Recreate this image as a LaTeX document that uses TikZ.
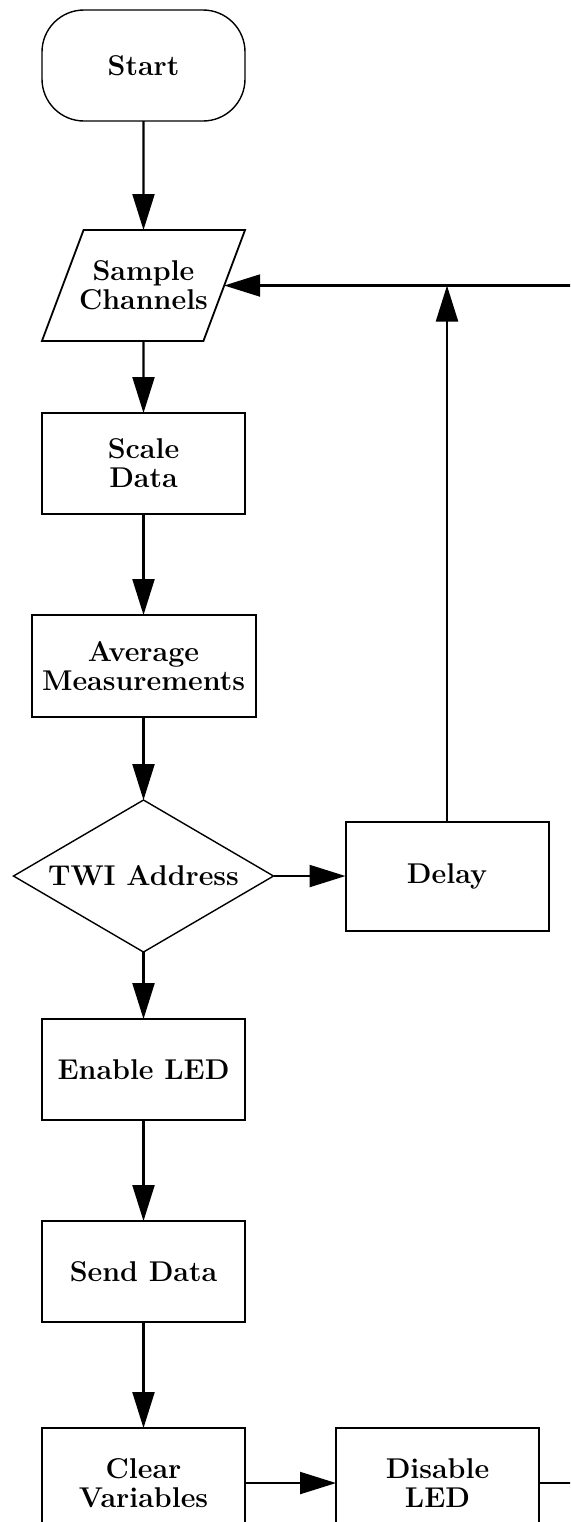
\documentclass[tikz,border=0pt]{standalone}
\usepackage{tikz}
\usetikzlibrary{shapes.geometric, arrows.meta, positioning, calc}

\begin{document}
\begin{tikzpicture}[x=0.5pt, y=-0.5pt,
    every node/.style={font=\fontsize{14.3}{14.5}\selectfont\bfseries, align=center, inner sep=2pt, outer sep=0pt},
    procbox/.style={draw, line width=1pt, minimum width=101.5pt, minimum height=50.5pt},
    termbox/.style={draw, line width=0.7pt, rounded corners=21pt, minimum width=101.5pt, minimum height=55.5pt},
    iobox/.style={draw, line width=0.9pt, trapezium, trapezium left angle=54, trapezium right angle=126,
        trapezium stretches body, inner xsep=-2.25pt, minimum height=55.5pt},
    decbox/.style={draw, line width=0.7pt, diamond, aspect=1.7, minimum width=130pt, minimum height=76pt, inner sep=0pt},
    flowarrow/.style={line width=1.1pt, -{Triangle[length=18pt, width=11pt]}},
    flowline/.style={line width=1.1pt}]

    \clip (0,0) rectangle (570,1522);

    \node[termbox] (start) at (143.5,65.5) {Start};
    \node[iobox, below=54.5pt of start] (sample) {Sample\\Channels};
    \node[procbox, below=36pt of sample] (scale) {Scale\\Data};
    \node[procbox, below=50.5pt of scale, minimum width=112pt, minimum height=51pt] (average) {Average\\Measurements};
    \node[decbox, below=41.5pt of average] (twi) {TWI Address};
    \node[procbox, right=36pt of twi, minimum height=54.5pt] (delay) {Delay};
    \node[procbox, below=33.5pt of twi] (enable) {Enable LED};
    \node[procbox, below=50.5pt of enable] (send) {Send Data};
    \node[procbox, below=53pt of send, minimum height=55pt] (clear) {Clear\\Variables};
    \node[procbox, right=45.5pt of clear, minimum height=55pt] (disable) {Disable\\LED};
    \coordinate (edge) at (585,0);

    \draw[flowarrow] (start) -- (sample);
    \draw[flowarrow] (sample) -- (scale);
    \draw[flowarrow] (scale) -- (average);
    \draw[flowarrow] (average) -- (twi);
    \draw[flowarrow] (twi) -- (delay);
    \draw[flowarrow] (twi) -- (enable);
    \draw[flowarrow] (enable) -- (send);
    \draw[flowarrow] (send) -- (clear);
    \draw[flowarrow] (clear) -- (disable);
    \draw[flowarrow] (delay.north) -- (delay.north |- sample.east);
    \draw[flowarrow] (edge |- sample.east) -- (sample.east);
    \draw[flowline] (disable.east) -- (edge |- disable.east);
\end{tikzpicture}
\end{document}
